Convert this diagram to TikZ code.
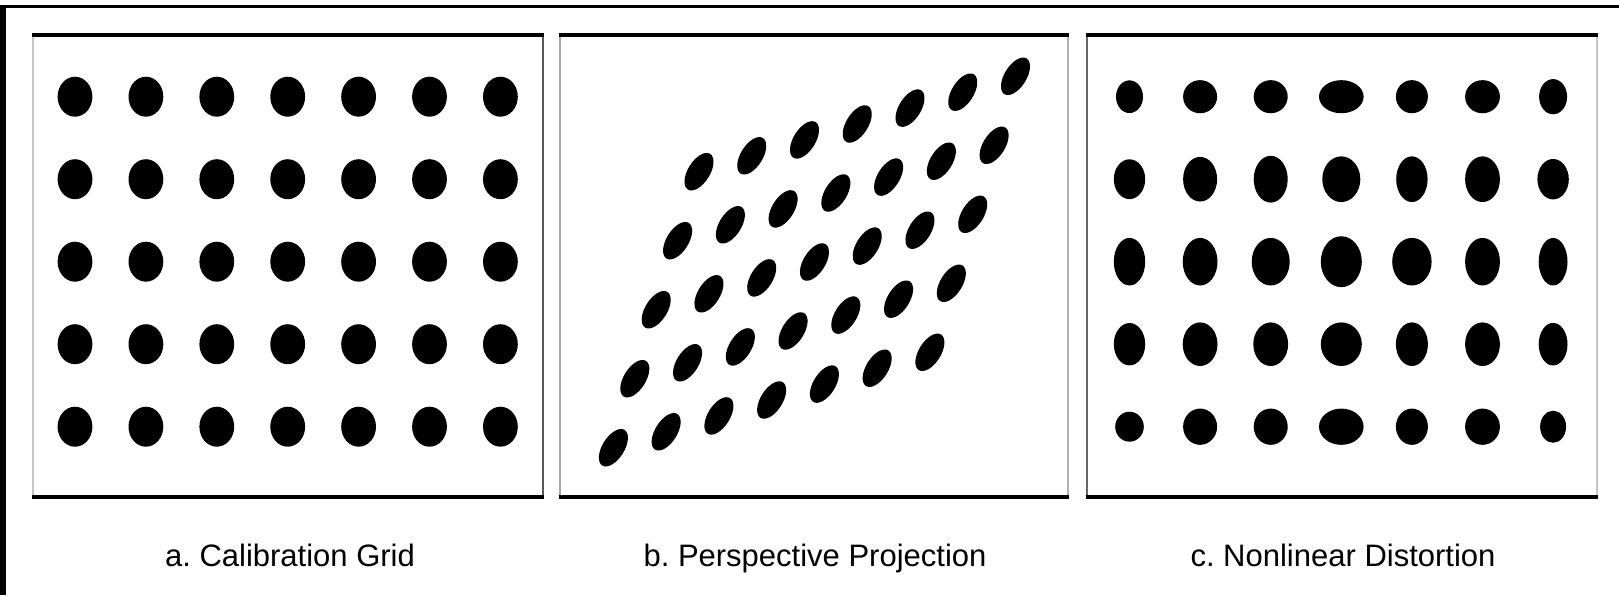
\documentclass[tikz,border=0pt]{standalone}
\usepackage{fontspec}
\setmainfont{Liberation Sans}
\frenchspacing
\begin{document}
\begin{tikzpicture}[x=1pt,y=-1pt,
  frameline/.style={line width=3.5pt, black},
  caption/.style={font=\fontsize{31}{37}\selectfont, inner sep=0pt, anchor=base}]
\useasboundingbox (0,0) rectangle (1619,595);
\fill[white] (0,0) rectangle (1619,595);
% outer frame (top and left)
\draw[line width=2.5pt] (0,6.3) -- (1619,6.3);
\fill[black] (0,5) rectangle (5.5,595);
% panel frames
\foreach \xl/\xr/\cl/\cr in {33/543/gray!45/gray!70!black, 560/1068/gray!70/gray!60, 1087/1597/gray!80!black/gray!45} {
  \draw[line width=2pt,\cl] (\xl,35) -- (\xl,497);
  \draw[line width=2pt,\cr] (\xr,35) -- (\xr,497);
  \draw[frameline] (\xl-1,35) -- (\xr+1,35);
  \draw[frameline] (\xl-1,497) -- (\xr+1,497);
}
% panel a: calibration grid
\foreach \i in {0,...,4} \foreach \j in {0,...,6}
  \fill ({75+70.9*\j},{96.7+82.5*\i}) ellipse [x radius=17.4pt, y radius=20pt];
% panel b: perspective projection
\foreach \i in {0,...,4} \foreach \j in {0,...,6}
  \fill[shift={({699+52.75*\j-21.4*\i},{171.7-15.9*\j+69*\i})}, rotate=58] (0,0) ellipse [x radius=21pt, y radius=11pt];
% panel c: nonlinear distortion
\foreach \j/\i/\rx/\ry in {
  0/0/13/14.8, 1/0/16.5/15, 2/0/16.5/15, 3/0/21.8/15, 4/0/15.5/15, 5/0/16.9/15, 6/0/13.5/16,
  0/1/15.2/18.2, 1/1/16.5/20.5, 2/1/16.5/21.5, 3/1/18.5/21, 4/1/15.2/21, 5/1/16.9/21, 6/1/15.2/18.5,
  0/2/15.2/21.9, 1/2/16.9/21.9, 2/2/18.5/21.9, 3/2/20/23.5, 4/2/19.2/21.9, 5/2/16.9/21.9, 6/2/13.9/21.9,
  0/3/15.2/19.4, 1/3/16.9/20, 2/3/16.9/20, 3/3/20/20, 4/3/15.5/20, 5/3/16.9/20, 6/3/13.9/19.5,
  0/4/13.8/13.5, 1/4/16.5/16.5, 2/4/16.5/16.5, 3/4/21.8/16.5, 4/4/15.5/16.5, 5/4/16.9/16.5, 6/4/12.5/14.5}
  \fill ({1129.5+70.6*\j},{96.7+82.5*\i}) ellipse [x radius={\rx+0.5}, y radius={1.05*\ry+0.8}];
% captions
\node[caption] (la) at (290,566) {a. Calibration Grid};
\node[caption] (lb) at (815,566) {b. Perspective Projection};
\node[caption] (lc) at (1343,566) {c. Nonlinear Distortion};
\end{tikzpicture}
\end{document}
